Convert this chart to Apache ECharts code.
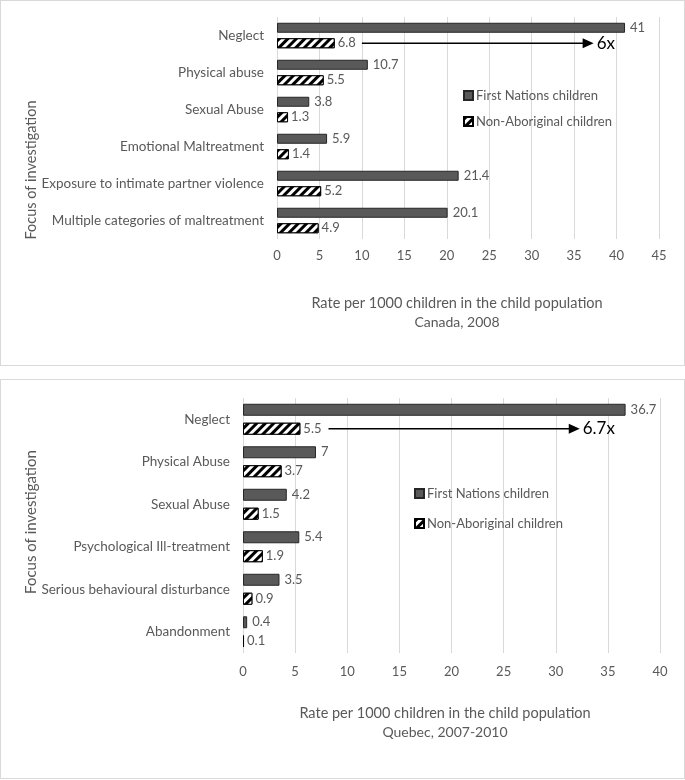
<!DOCTYPE html>
<html>
<head>
<meta charset="utf-8">
<script src="https://cdn.jsdelivr.net/npm/echarts@6/dist/echarts.min.js"></script>
<style>
  html, body { margin: 0; padding: 0; background: #fff; }
  .box { position: absolute; left: 0; width: 683px; border: 1px solid #d9d9d9; background: #fff; }
  #top-chart { top: 0; height: 364px; }
  #bottom-chart { top: 379px; height: 398px; }
</style>
</head>
<body>
<div id="top-chart" class="box"></div>
<div id="bottom-chart" class="box"></div>
<script>
var canadaCategories = ['Neglect', 'Physical abuse', 'Sexual Abuse', 'Emotional Maltreatment',
    'Exposure to intimate partner violence', 'Multiple categories of maltreatment'];
var canadaFirstNations = [41, 10.7, 3.8, 5.9, 21.4, 20.1];
var canadaNonAboriginal = [6.8, 5.5, 1.3, 1.4, 5.2, 4.9];
var canadaTicks = [0, 45, 5];
var canadaArrow = [10, 37.3, '6x'];

var quebecCategories = ['Neglect', 'Physical Abuse', 'Sexual Abuse', 'Psychological Ill-treatment',
    'Serious behavioural disturbance', 'Abandonment'];
var quebecFirstNations = [36.7, 7, 4.2, 5.4, 3.5, 0.4];
var quebecNonAboriginal = [5.5, 3.7, 1.5, 1.9, 0.9, 0.1];
var quebecTicks = [0, 40, 5];
var quebecArrow = [8.2, 32.3, '6.7x'];

var seriesNames = ['First Nations children', 'Non-Aboriginal children'];
var FONT = 'Lato';
var GREY = '#595959';

function buildOption(cfg) {
    return {
        animation: false,
        textStyle: { fontFamily: FONT },
        title: {
            text: 'Rate per 1000 children in the child population',
            subtext: cfg.subtitle,
            left: cfg.titleX,
            top: cfg.titleY,
            textAlign: 'center',
            itemGap: 4,
            textStyle: { fontFamily: FONT, fontSize: 14.5, fontWeight: 'normal', color: GREY },
            subtextStyle: { fontFamily: FONT, fontSize: 14, color: GREY }
        },
        legend: {
            orient: 'vertical',
            left: cfg.legendX,
            top: cfg.legendY,
            itemWidth: 9,
            itemHeight: 9,
            itemGap: cfg.legendGap,
            icon: 'rect',
            textStyle: { fontFamily: FONT, fontSize: 13, color: GREY, padding: [0, 0, 0, -2] },
            data: seriesNames
        },
        grid: cfg.grid,
        xAxis: {
            type: 'value',
            min: cfg.ticks[0],
            max: cfg.ticks[1],
            interval: cfg.ticks[2],
            axisLine: { show: false },
            axisTick: { show: false },
            axisLabel: { color: GREY, fontSize: 13, margin: cfg.tickMargin },
            splitLine: { lineStyle: { color: '#d9d9d9' } }
        },
        yAxis: {
            type: 'category',
            inverse: true,
            data: cfg.categories,
            axisLine: { show: false },
            axisTick: { show: false },
            axisLabel: { color: GREY, fontSize: 13.5, margin: 13 }
        },
        series: [
            {
                name: seriesNames[0],
                type: 'bar',
                data: cfg.first,
                barWidth: cfg.barWidth,
                barGap: cfg.barGap,
                itemStyle: { color: '#595959', borderColor: '#262626', borderWidth: 1 },
                label: { show: true, position: 'right', distance: 5, color: GREY, fontSize: 13, fontFamily: FONT }
            },
            {
                name: seriesNames[1],
                type: 'bar',
                data: cfg.second,
                barWidth: cfg.barWidth,
                barGap: cfg.barGap,
                itemStyle: {
                    color: '#ffffff',
                    borderColor: '#000000',
                    borderWidth: 1,
                    decal: {
                        symbol: 'rect',
                        symbolSize: 1,
                        color: '#000000',
                        backgroundColor: '#ffffff',
                        dashArrayX: [1, 0],
                        dashArrayY: [3, 3],
                        rotation: -Math.PI / 4
                    }
                },
                label: { show: true, position: 'right', distance: 3, color: GREY, fontSize: 13, fontFamily: FONT }
            }
        ]
    };
}

function drawChart(id, cfg) {
    var chart = echarts.init(document.getElementById(id));
    chart.setOption(buildOption(cfg));

    // arrow next to the hatched Neglect bar, placed through the axes
    var offset = cfg.barWidth * (1 + parseFloat(cfg.barGap) / 100) / 2;
    var p0 = chart.convertToPixel({ gridIndex: 0 }, [cfg.arrow[0], 0]);
    var p1 = chart.convertToPixel({ gridIndex: 0 }, [cfg.arrow[1], 0]);
    var y = p0[1] + offset;
    chart.setOption({
        graphic: [
            {
                type: 'line',
                shape: { x1: p0[0], y1: y, x2: p1[0] - 9, y2: y },
                style: { stroke: '#000', lineWidth: 1.5 }
            },
            {
                type: 'polygon',
                shape: { points: [[p1[0] - 11, y - 5], [p1[0], y], [p1[0] - 11, y + 5]] },
                style: { fill: '#000' }
            },
            {
                type: 'text',
                x: p1[0] + 3,
                y: y,
                style: { text: cfg.arrow[2], fill: '#000', font: '17px ' + FONT, verticalAlign: 'middle' }
            },
            {
                type: 'text',
                x: 30,
                y: cfg.yTitleY,
                rotation: Math.PI / 2,
                style: {
                    text: 'Focus of investigation', fill: GREY, font: cfg.yTitleSize + 'px ' + FONT,
                    align: 'center', verticalAlign: 'middle'
                }
            }
        ]
    });
    return chart;
}

drawChart('top-chart', {
    categories: canadaCategories,
    first: canadaFirstNations,
    second: canadaNonAboriginal,
    ticks: canadaTicks,
    arrow: canadaArrow,
    subtitle: 'Canada, 2008',
    grid: { left: 276, right: 25, top: 16, height: 222 },
    barWidth: 10,
    barGap: '55%',
    tickMargin: 10,
    titleX: 451,
    titleY: 290,
    legendX: 457,
    legendY: 83,
    legendGap: 13,
    yTitleY: 169,
    yTitleSize: 14.5
});

drawChart('bottom-chart', {
    categories: quebecCategories,
    first: quebecFirstNations,
    second: quebecNonAboriginal,
    ticks: quebecTicks,
    arrow: quebecArrow,
    subtitle: 'Quebec, 2007-2010',
    grid: { left: 242, right: 24, top: 18, height: 255 },
    barWidth: 12,
    barGap: '58%',
    tickMargin: 12,
    titleX: 439,
    titleY: 321,
    legendX: 408,
    legendY: 102,
    legendGap: 17,
    yTitleY: 142,
    yTitleSize: 15
});
</script>
</body>
</html>
